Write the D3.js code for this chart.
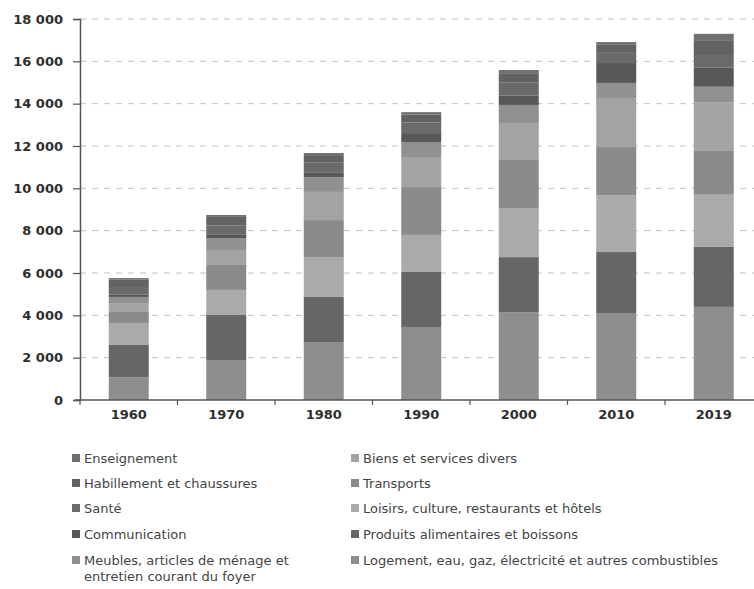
<!DOCTYPE html>
<html>
<head>
<meta charset="utf-8">
<script src="https://cdn.jsdelivr.net/npm/d3@7"></script>
<style>
  body { margin: 0; background: #fff; }
  svg { display: block; }
  .tick text { font-family: "DejaVu Sans", sans-serif; font-weight: bold; fill: #2e2e2e; }
  .legend-text { font-family: "DejaVu Sans", sans-serif; font-size: 13px; fill: #444; }
</style>
</head>
<body>
<script>
// data (unit: euros per inhabitant)
const years = ['1960', '1970', '1980', '1990', '2000', '2010', '2019']
const yTicks = [0, 2000, 4000, 6000, 8000, 10000, 12000, 14000, 16000, 18000]

// stack order, bottom to top
const seriesNames = [
  'Logement, eau, gaz, électricité et autres combustibles',
  'Produits alimentaires et boissons',
  'Loisirs, culture, restaurants et hôtels',
  'Transports',
  'Biens et services divers',
  'Meubles, articles de ménage et entretien courant du foyer',
  'Communication',
  'Santé',
  'Habillement et chaussures',
  'Enseignement'
]
const logement      = [1080, 1890, 2740, 3450, 4150, 4110, 4400]
const alimentation  = [1520, 2125, 2130, 2600, 2600, 2880, 2850]
const loisirs       = [1040, 1185, 1880, 1750, 2320, 2690, 2450]
const transports    = [520, 1180, 1750, 2260, 2270, 2270, 2100]
const biensDivers   = [420, 710, 1330, 1420, 1750, 2320, 2250]
const meubles       = [290, 560, 700, 710, 850, 710, 750]
const communication = [120, 150, 200, 420, 450, 940, 900]
const sante         = [350, 450, 480, 500, 600, 480, 600]
const habillement   = [340, 400, 360, 370, 450, 380, 700]
const enseignement  = [80, 90, 100, 120, 150, 130, 300]

const seriesValues = [logement, alimentation, loisirs, transports, biensDivers,
  meubles, communication, sante, habillement, enseignement]
const colors = ['#8e8e8e', '#666666', '#aaaaaa', '#8a8a8a', '#a3a3a3',
  '#909090', '#585858', '#6a6a6a', '#626262', '#707070']

// legend layout: two columns as in the picture
const legendLeft = ['Enseignement', 'Habillement et chaussures', 'Santé', 'Communication',
  'Meubles, articles de ménage et entretien courant du foyer']
const legendRight = ['Biens et services divers', 'Transports', 'Loisirs, culture, restaurants et hôtels',
  'Produits alimentaires et boissons', 'Logement, eau, gaz, électricité et autres combustibles']

let width = 754, height = 589
let margin = { top: 19, left: 80, right: 762.5, bottom: 400 }

let table = years.map((yr, i) => {
  let row = { year: yr }
  seriesNames.forEach((s, j) => { row[s] = seriesValues[j][i] })
  return row
})
let stacked = d3.stack().keys(seriesNames)(table)

let svg = d3.select('body').append('svg')
  .attr('width', width)
  .attr('height', height)

let x = d3.scaleBand()
  .domain(years)
  .range([margin.left, margin.right])
  .paddingInner(0.59)
  .paddingOuter(0.295)

let y = d3.scaleLinear()
  .domain([0, 18000])
  .range([margin.bottom, margin.top])

let fmt = d3.formatLocale({ thousands: ' ', grouping: [3], decimal: ',', currency: ['', ' €'] }).format(',d')

// dashed gridlines
svg.append('g')
  .selectAll('line')
  .data(yTicks.filter(d => d > 0))
  .join('line')
  .attr('x1', margin.left)
  .attr('x2', width)
  .attr('y1', d => y(d))
  .attr('y2', d => y(d))
  .attr('stroke', '#c2c2c2')
  .attr('stroke-width', 1)
  .attr('stroke-dasharray', '6,6')

// bars
svg.append('g')
  .selectAll('g')
  .data(stacked)
  .join('g')
  .attr('fill', (d, i) => colors[i])
  .selectAll('rect')
  .data(d => d)
  .join('rect')
  .attr('x', d => x(d.data.year))
  .attr('width', x.bandwidth())
  .attr('y', d => y(d[1]))
  .attr('height', d => y(d[0]) - y(d[1]))

// y axis
let yAxis = d3.axisLeft(y)
  .tickValues(yTicks)
  .tickSize(7)
  .tickPadding(10)
  .tickFormat(fmt)

let yAxis_g = svg.append('g')
  .attr('transform', `translate(${margin.left},0)`)
  .call(yAxis)
yAxis_g.select('.domain').attr('stroke', '#555').attr('stroke-width', 1.5)
yAxis_g.selectAll('.tick line').attr('stroke', '#555').attr('stroke-width', 1.2)
yAxis_g.selectAll('.tick text').attr('font-size', '13px')

// x axis: line with ticks between categories
let xAxis_g = svg.append('g')
xAxis_g.append('line')
  .attr('x1', margin.left - 5)
  .attr('x2', width)
  .attr('y1', y(0))
  .attr('y2', y(0))
  .attr('stroke', '#555')
  .attr('stroke-width', 1.5)
xAxis_g.selectAll('.sep')
  .data(d3.range(years.length + 1))
  .join('line')
  .attr('class', 'sep')
  .attr('x1', i => margin.left + i * x.step())
  .attr('x2', i => margin.left + i * x.step())
  .attr('y1', y(0))
  .attr('y2', y(0) + 5)
  .attr('stroke', '#555')
  .attr('stroke-width', 1.2)
xAxis_g.selectAll('.tick')
  .data(years)
  .join('text')
  .attr('class', 'tick')
  .attr('x', d => x(d) + x.bandwidth() / 2)
  .attr('y', 419)
  .attr('text-anchor', 'middle')
  .attr('font-family', 'DejaVu Sans, sans-serif')
  .attr('font-weight', 'bold')
  .attr('font-size', '13px')
  .attr('fill', '#2e2e2e')
  .text(d => d)

// legend
function colorOf(name) { return colors[seriesNames.indexOf(name)] }

let rowY = [458, 483, 508, 534, 560]
let columns = [{ names: legendLeft, x: 72 }, { names: legendRight, x: 351 }]

columns.forEach(col => {
  let g = svg.append('g').attr('class', 'legend')
  col.names.forEach((name, i) => {
    g.append('rect')
      .attr('x', col.x)
      .attr('y', rowY[i] - 4)
      .attr('width', 8)
      .attr('height', 8)
      .attr('fill', colorOf(name))
    let lines = name.startsWith('Meubles')
      ? ['Meubles, articles de ménage et', 'entretien courant du foyer']
      : [name]
    lines.forEach((ln, k) => {
      g.append('text')
        .attr('class', 'legend-text')
        .attr('x', col.x + 12)
        .attr('y', rowY[i] + 4.5 + k * 16)
        .text(ln)
    })
  })
})
</script>
</body>
</html>
